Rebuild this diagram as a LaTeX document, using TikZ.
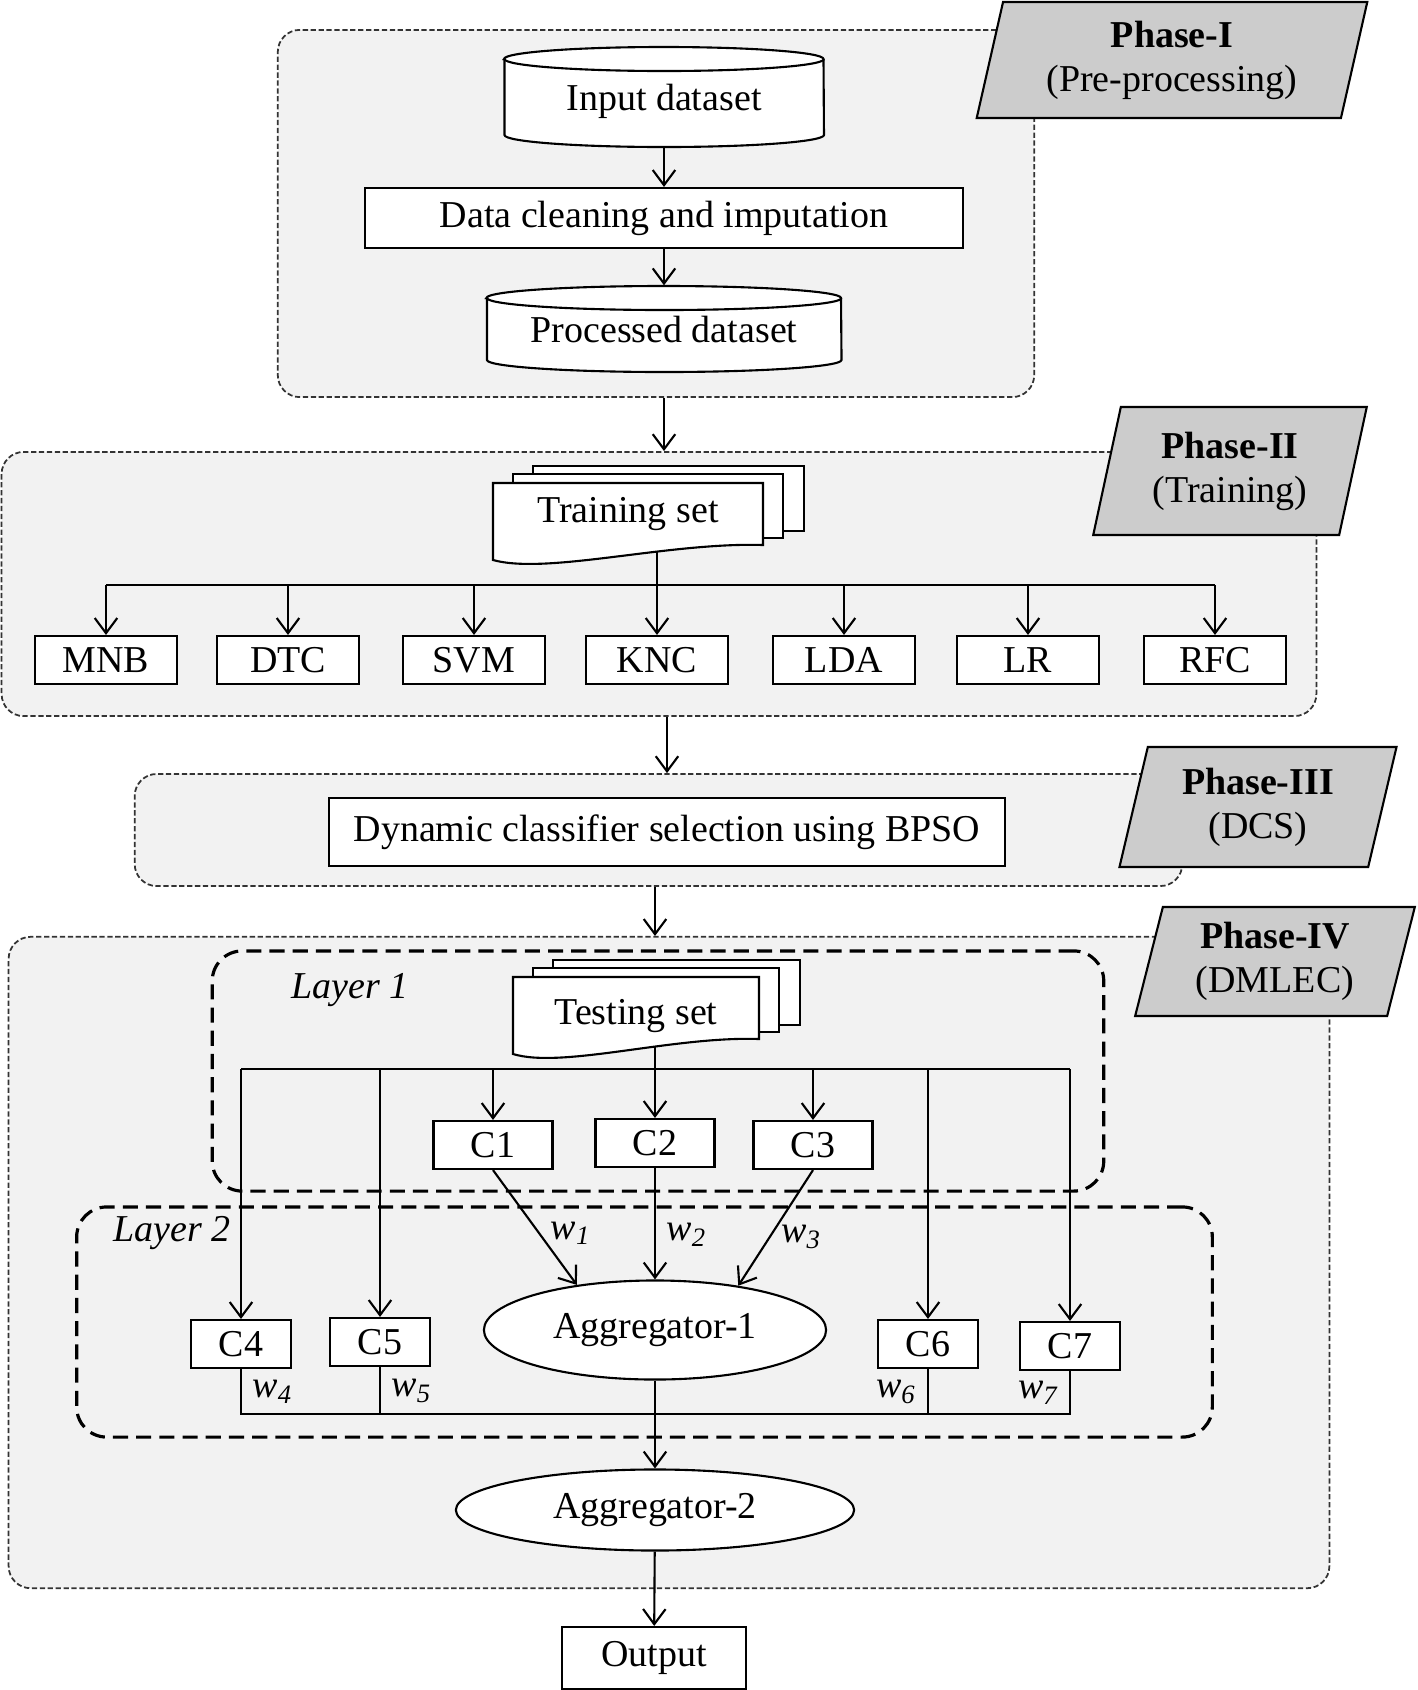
\documentclass[tikz,border=0pt]{standalone}
\usepackage{fontspec}
\setmainfont{Liberation Serif}
\usepackage{tikz}
\usetikzlibrary{shapes.geometric}
\usetikzlibrary{arrows.meta}
\newcommand{\figfont}{\fontsize{10.8pt}{12.5pt}\selectfont}
\tikzset{
	>={Straight Barb[length=4.3pt,width=6.4pt]},
	phasebox/.style={
		draw=black!80,
		fill=gray!10,
		line width=0.5pt,
		dash pattern=on 1.5pt off 0.75pt,
		rounded corners=0.22cm},
	phasetag/.style={
		draw, fill=gray!40, line width=0.6pt,
		trapezium, trapezium left angle=76, trapezium right angle=104,
		trapezium stretches=true, align=center, inner sep=0pt},
	layerbox/.style={
		draw, line width=0.9pt,
		dash pattern=on 4.3pt off 2.3pt,
		rounded corners=0.3cm},
	box/.style={draw, fill=white, line width=0.6pt, inner sep=0pt},
	agg/.style={box, ellipse},
	txt/.style={inner sep=0pt},
	wlab/.style={font=\figfont\itshape, inner sep=3pt},
	link/.style={draw, ->, line width=0.6pt},
	pics/dbase/.style 2 args={code={
		\draw[fill=white, line width=0.6pt] (-#1/2,-#2/2+12) -- (-#1/2,#2/2-12)
			arc[start angle=180, end angle=360, x radius=#1*0.005cm, y radius=0.12cm]
			-- (#1/2,-#2/2+12)
			arc[start angle=0, end angle=180, x radius=#1*0.005cm, y radius=0.12cm] -- cycle;
		\draw[line width=0.6pt] (-#1/2,-#2/2+12)
			arc[start angle=180, end angle=360, x radius=#1*0.005cm, y radius=0.12cm];
	}},
	pics/docpile/.style={code={
		\draw[fill=white, line width=0.6pt] (-#1+40,-49) rectangle (#1+41,16);
		\draw[fill=white, line width=0.6pt] (-#1+20,-41) rectangle (#1+20,23);
		\draw[fill=white, line width=0.6pt] (-#1,-32) -- (#1,-32) -- (#1,30)
			.. controls (0.3*#1,27) and (-0.6*#1,60) .. (-#1,45) -- cycle;
		\coordinate (-bot) at (0.2*#1,37);
	}}
}

\begin{document}
\begin{tikzpicture}[x=0.01cm, y=-0.01cm, font=\figfont]
	\useasboundingbox (0,0) rectangle (1418,1690);
	% Phase I
	\node[phasebox, minimum width=7.56cm, minimum height=3.67cm] (ph1) at (656,213.5) {};
	\node[phasetag, minimum width=3.91cm, minimum height=1.16cm] (tag1) at (1172,60) {\textbf{Phase-I}\\(Pre-processing)};
	\pic at (664,97) {dbase={319}{100}};
	\node[txt, minimum width=3.19cm, minimum height=1cm, text depth=-0.05cm] (inp) at (664,97) {Input dataset};
	\node[box, minimum width=5.98cm, minimum height=0.6cm] (clean) at (664,218) {Data cleaning and imputation};
	\pic at (664,329) {dbase={354}{86}};
	\node[txt, minimum width=3.54cm, minimum height=0.86cm, text depth=-0.05cm] (proc) at (664,329) {Processed dataset};
	\draw[link] (inp) -- (clean);
	\draw[link] (clean) -- (proc);
	% Phase II
	\node[phasebox, minimum width=13.14cm, minimum height=2.64cm] (ph2) at (659,584) {};
	\node[phasetag, minimum width=2.74cm, minimum height=1.28cm] (tag2) at (1230,471) {\textbf{Phase-II}\\(Training)};
	\pic (tr) at (628,515) {docpile=135};
	\node[txt] (train) at (628,514) {Training set};
	\coordinate (tbus) at (657,585);
	\foreach \n/\x in {MNB/106,DTC/288,SVM/474,KNC/657,LDA/844,LR/1028,RFC/1215}
		\node[box, minimum width=1.42cm, minimum height=0.48cm] (\n) at (\x,660) {\n};
	\draw[link] (KNC |- tr-bot) -- (KNC);
	\draw[line width=0.6pt] (MNB |- tbus) -- (RFC |- tbus);
	\foreach \n in {MNB,DTC,SVM,LDA,LR,RFC}
		\draw[link] (\n |- tbus) -- (\n);
	% Phase III
	\node[phasebox, minimum width=10.47cm, minimum height=1.12cm] (ph3) at (658.5,830) {};
	\node[phasetag, minimum width=2.77cm, minimum height=1.2cm] (tag3) at (1258,807) {\textbf{Phase-III}\\(DCS)};
	\node[box, minimum width=6.76cm, minimum height=0.68cm] (dcs) at (667,832) {Dynamic classifier selection using BPSO};
	% Phase IV
	\node[phasebox, minimum width=13.2cm, minimum height=6.51cm] (ph4) at (669,1262.5) {};
	\node[phasetag, minimum width=2.8cm, minimum height=1.09cm] (tag4) at (1275,961.5) {\textbf{Phase-IV}\\(DMLEC)};
	\node[layerbox, minimum width=8.91cm, minimum height=2.4cm] (lay1) at (658,1071) {};
	\node[layerbox, minimum width=11.35cm, minimum height=2.3cm] (lay2) at (644.5,1322) {};
	\node[wlab] (lay1tag) at (350,990) {Layer 1};
	\node[wlab] (lay2tag) at (172,1233) {Layer 2};
	\pic (ts) at (636,1009) {docpile=123};
	\node[txt] (test) at (636,1016) {Testing set};
	\coordinate (l1bus) at (655,1069);
	\coordinate (l2bus) at (655,1414);
	\foreach \n/\x/\y in {1/493/1145,2/655/1143,3/813/1145}
		\node[box, minimum width=1.19cm, minimum height=0.48cm] (c\n) at (\x,\y) {C\n};
	\foreach \n/\x/\y in {4/241/1344,5/380/1342,6/928/1344,7/1070/1346}
		\node[box, minimum width=1cm, minimum height=0.48cm] (c\n) at (\x,\y) {C\n};
	\node[agg, minimum width=3.42cm, minimum height=0.99cm] (agg1) at (655,1330) {Aggregator-1};
	\node[agg, minimum width=3.98cm, minimum height=0.81cm] (agg2) at (655,1510) {Aggregator-2};
	\node[box, minimum width=1.84cm, minimum height=0.62cm] (out) at (654,1658) {Output};
	% layer 1
	\draw[link] (c2 |- ts-bot) -- (c2);
	\draw[line width=0.6pt] (c4 |- l1bus) -- (c7 |- l1bus);
	\foreach \c in {c1,c3,c4,c5,c6,c7}
		\draw[link] (\c |- l1bus) -- (\c);
	% layer 2
	\draw[link] (c1.south) -- node[wlab, right, pos=0.55] {w\textsubscript{1}} (agg1.150);
	\draw[link] (c2) -- node[wlab, right, pos=0.6] {w\textsubscript{2}} (agg1);
	\draw[link] (c3.south) -- node[wlab, right, pos=0.58] {w\textsubscript{3}} (agg1.28);
	\draw[line width=0.6pt] (c4.south) -- node[wlab, right] {w\textsubscript{4}} (c4 |- l2bus)
		-- (c7 |- l2bus) -- node[wlab, left] {w\textsubscript{7}} (c7.south);
	\draw[line width=0.6pt] (c5.south) -- node[wlab, right] {w\textsubscript{5}} (c5 |- l2bus);
	\draw[line width=0.6pt] (c6.south) -- node[wlab, left] {w\textsubscript{6}} (c6 |- l2bus);
	\draw[link] (agg1) -- (agg2);
	\draw[link] (agg2) -- (out);
	% between phases
	\draw[link] (ph1.south -| proc) -- (ph2.north -| proc);
	\draw[link] (ph2.south -| dcs) -- (ph3.north -| dcs);
	\draw[link] (ph3.south -| agg1) -- (ph4.north -| agg1);
\end{tikzpicture}
\end{document}
